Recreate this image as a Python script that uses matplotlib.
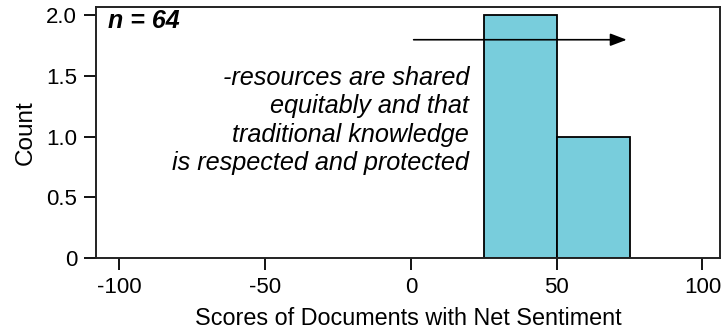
import matplotlib.pyplot as plt
import numpy as np

# sentiment score histogram, 25-point bins
bin_edges = [-100, -75, -50, -25, 0, 25, 50, 75, 100]
counts = [0, 0, 0, 0, 0, 2, 1, 0]
n_docs = 64
theme_text = "-resources are shared\nequitably and that\ntraditional knowledge\nis respected and protected"
xticks = [-100, -50, 0, 50, 100]
yticks = [0, 0.5, 1.0, 1.5, 2.0]
yticklabels = ["0", "0.5", "1.0", "1.5", "2.0"]

plt.rcParams['font.family'] = ['Liberation Sans', 'DejaVu Sans']
plt.rcParams['axes.unicode_minus'] = False

fig = plt.figure(figsize=(7.25, 3.33), dpi=100)
ax = fig.add_axes([0.1324, 0.2252, 0.8606, 0.7538])

left = np.array(bin_edges[:-1])
heights = np.array(counts)
keep = heights > 0
ax.bar(left[keep], heights[keep], width=25, align='edge',
	color='#78cddc', edgecolor='black', linewidth=1.3, zorder=2)

ax.set_xlim(-108, 106)
ax.set_ylim(0, 2.07)
ax.set_xticks(xticks)
ax.set_yticks(yticks)
ax.set_yticklabels(yticklabels)
ax.tick_params(axis='both', labelsize=16, length=8.5, width=1.3, pad=5, color='black')

for s in ax.spines.values():
	s.set_linewidth(1.4)
	s.set_color('#222222')

ax.set_xlabel('Scores of Documents with Net Sentiment', fontsize=16.8, labelpad=7)
ax.set_ylabel('Count', fontsize=17.5, labelpad=7)

ax.text(0.019, 0.945, 'n = %d' % n_docs, transform=ax.transAxes, fontsize=18,
	fontweight='bold', fontstyle='italic', ha='left', va='center')

ax.annotate('', xy=(75, 1.80), xytext=(0, 1.80),
	arrowprops=dict(arrowstyle='-|>,head_length=1.0,head_width=0.38', color='black', lw=1.2),
	zorder=3)

ax.text(20, 1.135, theme_text, fontsize=18.2, fontstyle='italic', ha='right', va='center',
	multialignment='right', linespacing=1.23, zorder=3)

plt.savefig('out.png', dpi=100)
